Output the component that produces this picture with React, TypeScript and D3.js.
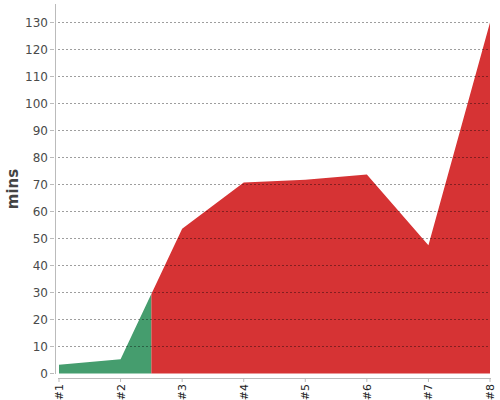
import React from "react";
import * as d3 from "d3";

const categories = ["#1", "#2", "#3", "#4", "#5", "#6", "#7", "#8"];
const values = [3.2, 5.3, 53.6, 70.7, 71.8, 73.7, 47.5, 130];
const yTicks = [0, 10, 20, 30, 40, 50, 60, 70, 80, 90, 100, 110, 120, 130];
const splitIndex = 1.5; // zone boundary between #2 and #3

export default function App() {
  const W = 500, H = 400;
  const x = d3.scaleLinear().domain([0, categories.length - 1]).range([59, 490]);
  const y = d3.scaleLinear().domain([0, 130]).range([373.5, 22.5]);
  const area = d3
    .area<number>()
    .x((_, i) => x(i))
    .y0(y(0))
    .y1((d) => y(d));
  const pathD = area(values) || "";
  const xs = x(splitIndex);
  const font = "DejaVu Sans, sans-serif";
  return (
    <svg width={W} height={H} style={{ position: "absolute", left: 0, top: 0 }}>
      <defs>
        <clipPath id="left">
          <rect x={0} y={0} width={xs} height={H} />
        </clipPath>
        <clipPath id="right">
          <rect x={xs} y={0} width={W - xs} height={H} />
        </clipPath>
      </defs>
      <path d={pathD} fill="#459d6e" clipPath="url(#left)" />
      <path d={pathD} fill="#d63334" clipPath="url(#right)" />
      {yTicks.map((t) => (
        <g key={t}>
          {t > 0 && (
            <line
              x1={58}
              x2={490}
              y1={y(t)}
              y2={y(t)}
              stroke="#000"
              strokeOpacity={0.38}
              strokeDasharray="2,2"
              strokeWidth={1}
            />
          )}
          <line x1={50} x2={54} y1={y(t)} y2={y(t)} stroke="#bbb" />
          <text
            x={48}
            y={y(t)}
            dy="0.35em"
            textAnchor="end"
            fontFamily={font}
            fontSize={12}
            fill="#4a4a4a"
          >
            {t}
          </text>
        </g>
      ))}
      <line x1={55.5} x2={55.5} y1={4} y2={374} stroke="#bbb" />
      <line x1={58} x2={491} y1={378.5} y2={378.5} stroke="#bbb" />
      {categories.map((c, i) => (
        <g key={c}>
          <line x1={x(i)} x2={x(i)} y1={378} y2={382} stroke="#bbb" />
          <text
            transform={`translate(${x(i) + 4},${384}) rotate(-90)`}
            textAnchor="end"
            fontFamily={font}
            fontSize={11}
            fill="#222"
          >
            {c}
          </text>
        </g>
      ))}
      <text
        transform={`translate(18,189) rotate(-90)`}
        textAnchor="middle"
        fontFamily={font}
        fontSize={15}
        fontWeight="bold"
        fill="#444"
      >
        mins
      </text>
    </svg>
  );
}
